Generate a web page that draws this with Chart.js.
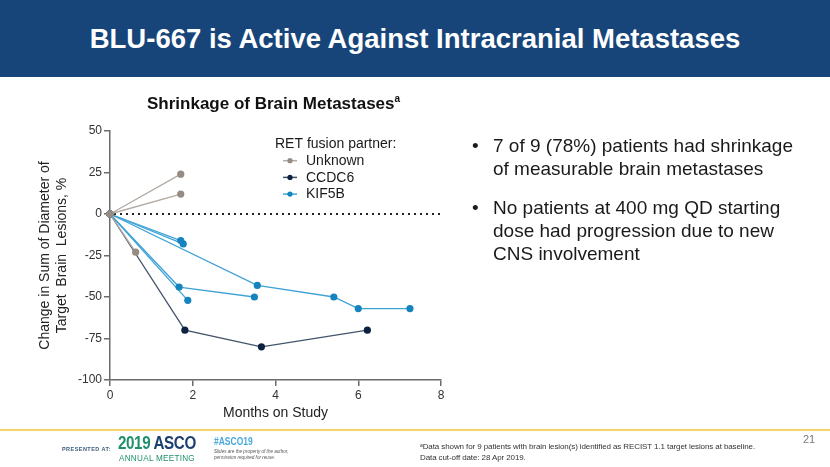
<!DOCTYPE html>
<html>
<head>
<meta charset="utf-8">
<script src="https://cdn.jsdelivr.net/npm/chart.js@4/dist/chart.umd.min.js"></script>
<style>
  html, body { margin:0; padding:0; background:#fff; }
  body { width:830px; height:467px; position:relative; overflow:hidden; font-family:"Liberation Sans", Arial, sans-serif; color:#222; }
  #band { position:absolute; left:0; top:0; width:830px; height:77px; background:#17457a; }
  #title { position:absolute; left:0; top:0; width:830px; height:78px; line-height:78px; text-align:center; color:#fff; font-weight:bold; font-size:27.5px; }
  #c { position:absolute; left:0; top:0; }
  .abs { position:absolute; white-space:nowrap; }
  #ctitle { left:147px; top:93px; font-weight:bold; font-size:17px; line-height:22px; color:#111; }
  #ctitle sup { font-size:10px; vertical-align:7px; line-height:0; }
  .bul { font-size:19px; line-height:23px; color:#1a1a1a; }
  .dot { font-size:19px; line-height:23px; color:#1a1a1a; }
  #footline { position:absolute; left:0; top:429px; width:830px; height:2px; background:#f1d46a; }
  .sx { transform-origin:0 0; }
</style>
</head>
<body>
<div id="band"></div>
<div id="title">BLU-667 is Active Against Intracranial Metastases</div>
<canvas id="c" width="830" height="467"></canvas>
<div id="ctitle" class="abs">Shrinkage of Brain Metastases<sup>a</sup></div>

<div class="abs dot" style="left:472px; top:134px;">•</div>
<div class="abs bul" style="left:493px; top:134px;">7 of 9 (78%) patients had shrinkage<br>of measurable brain metastases</div>
<div class="abs dot" style="left:472px; top:196px;">•</div>
<div class="abs bul" style="left:493px; top:196px;">No patients at 400 mg QD starting<br>dose had progression due to new<br>CNS involvement</div>

<div id="footline"></div>
<div class="abs" style="left:62px; top:446px; font-size:5.5px; font-weight:bold; letter-spacing:0.45px; color:#3d5b7c;">PRESENTED AT:</div>
<div class="abs sx" style="left:118px; top:433px; font-size:19px; line-height:20px; font-weight:bold; letter-spacing:-0.5px; transform:scaleX(0.8);"><span style="color:#21906c;">2019</span> <span style="color:#1c3f70;">ASCO</span></div>
<div class="abs sx" style="left:119px; top:452px; font-size:9.5px; line-height:11px; letter-spacing:0.3px; color:#21906c; transform:scaleX(0.86);">ANNUAL MEETING</div>
<div class="abs sx" style="left:214px; top:436px; font-size:10px; line-height:11px; font-weight:bold; color:#4aa9da; transform:scaleX(0.85);">#ASCO19</div>
<div class="abs sx" style="left:214px; top:449px; font-size:4.6px; line-height:6px; font-style:italic; color:#555;">Slides are the property of the author,<br>permission required for reuse.</div>
<div class="abs" style="left:420px; top:442px; font-size:8px; line-height:10.5px; color:#333; letter-spacing:-0.1px;"><sup style="font-size:5px; vertical-align:2px; line-height:0;">a</sup>Data shown for 9 patients with brain lesion(s) identified as RECIST 1.1 target lesions at baseline.<br>Data cut-off date: 28 Apr 2019.</div>
<div class="abs" style="left:803px; top:433px; font-size:11px; line-height:12px; color:#7a7a7a;">21</div>

<script>
// ---- data ----
const partners = ['Unknown', 'CCDC6', 'KIF5B'];
const patientPartner = ['Unknown', 'Unknown', 'Unknown', 'CCDC6', 'KIF5B', 'KIF5B', 'KIF5B', 'KIF5B', 'KIF5B'];
const patientMonths = [
  [0, 1.71],
  [0, 1.71],
  [0, 0.62],
  [0, 1.81, 3.66, 6.22],
  [0, 1.71],
  [0, 1.77],
  [0, 1.67, 3.49],
  [0, 1.88],
  [0, 3.56, 5.41, 6.0, 7.25]
];
const patientChange = [
  [0, 24],
  [0, 12],
  [0, -23],
  [0, -70, -80, -70],
  [0, -16],
  [0, -18],
  [0, -44, -50],
  [0, -52],
  [0, -43, -50, -57, -57]
];
const xTicks = [0, 2, 4, 6, 8];
const yTicks = [50, 25, 0, -25, -50, -75, -100];
const legendTitle = 'RET fusion partner:';

// ---- styles ----
const pointColor = { Unknown: '#968c84', CCDC6: '#0b2341', KIF5B: '#1584be' };
const lineColor  = { Unknown: '#b3aba4', CCDC6: '#435469', KIF5B: '#40a3d6' };
const FONT = '"Liberation Sans", Arial, sans-serif';

const datasets = patientMonths.map((months, i) => {
  const p = patientPartner[i];
  return {
    label: p,
    data: months.map((m, j) => ({ x: m, y: patientChange[i][j] })),
    showLine: true,
    borderColor: lineColor[p],
    borderWidth: 1.3,
    pointRadius: 3.6,
    pointHoverRadius: 3.6,
    pointBackgroundColor: pointColor[p],
    pointBorderColor: pointColor[p],
    pointBorderWidth: 0,
    clip: false
  };
});

const zeroLine = {
  id: 'zeroLine',
  beforeDatasetsDraw(chart) {
    const { ctx, chartArea, scales } = chart;
    const y = scales.y.getPixelForValue(0);
    ctx.save();
    ctx.strokeStyle = '#222';
    ctx.lineWidth = 2;
    ctx.setLineDash([2, 4]);
    ctx.beginPath();
    ctx.moveTo(chartArea.left + 4, y);
    ctx.lineTo(chartArea.right, y);
    ctx.stroke();
    ctx.restore();
  }
};

const customLegend = {
  id: 'customLegend',
  afterDraw(chart) {
    const { ctx } = chart;
    ctx.save();
    ctx.font = '14px ' + FONT;
    ctx.fillStyle = '#1a1a1a';
    ctx.textBaseline = 'middle';
    ctx.textAlign = 'left';
    ctx.fillText(legendTitle, 275, 144);
    partners.forEach((p, i) => {
      const y = 160.7 + i * 16.7;
      ctx.strokeStyle = lineColor[p];
      ctx.lineWidth = 1.5;
      ctx.beginPath();
      ctx.moveTo(283, y);
      ctx.lineTo(297, y);
      ctx.stroke();
      ctx.fillStyle = pointColor[p];
      ctx.beginPath();
      ctx.arc(290, y, 2.6, 0, Math.PI * 2);
      ctx.fill();
      ctx.fillStyle = '#1a1a1a';
      ctx.fillText(p, 306, y + 0.5);
    });
    ctx.restore();
  }
};

new Chart(document.getElementById('c'), {
  type: 'scatter',
  data: { datasets },
  plugins: [zeroLine, customLegend],
  options: {
    responsive: false,
    animation: false,
    devicePixelRatio: 1,
    layout: { padding: { left: 30, right: 389, top: 131, bottom: 42 } },
    plugins: { legend: { display: false }, tooltip: { enabled: false }, title: { display: false } },
    scales: {
      x: {
        type: 'linear',
        min: xTicks[0], max: xTicks[xTicks.length - 1],
        afterBuildTicks(scale) { scale.ticks = xTicks.map(v => ({ value: v })); },
        afterFit(scale) { scale.height = 45; },
        ticks: { color: '#333', font: { size: 12, family: FONT }, padding: 2 },
        grid: { display: true, drawOnChartArea: false, drawTicks: true, tickLength: 6, color: '#6b6b6b', lineWidth: 1.5 },
        border: { display: true, color: '#6b6b6b', width: 1.5 },
        title: { display: true, text: 'Months on Study', color: '#222', font: { size: 14, family: FONT }, padding: { top: 0, bottom: 3.6 } }
      },
      y: {
        type: 'linear',
        min: -100, max: 50,
        afterBuildTicks(scale) { scale.ticks = yTicks.slice().reverse().map(v => ({ value: v })); },
        afterFit(scale) { scale.width = 80; },
        ticks: { color: '#333', font: { size: 12, family: FONT }, padding: 2 },
        grid: { display: true, drawOnChartArea: false, drawTicks: true, tickLength: 6, color: '#6b6b6b', lineWidth: 1.5 },
        border: { display: true, color: '#6b6b6b', width: 1.5 },
        title: { display: true, text: ['Change in Sum of Diameter of', 'Target  Brain  Lesions, %'], color: '#222', font: { size: 14, family: FONT }, padding: { top: 7, bottom: 0 } }
      }
    }
  }
});
</script>
</body>
</html>
